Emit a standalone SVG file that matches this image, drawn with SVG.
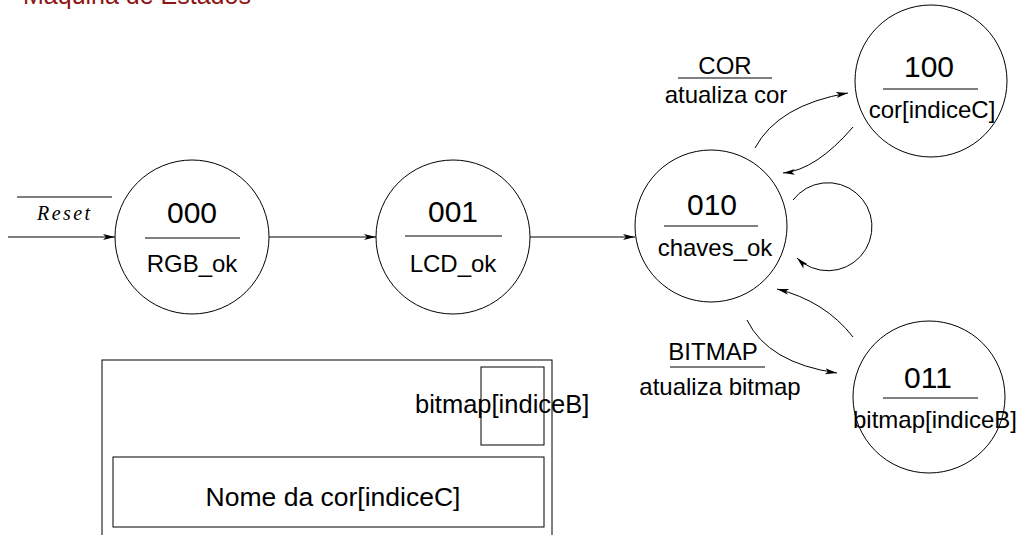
<svg xmlns="http://www.w3.org/2000/svg" width="1023" height="535" viewBox="0 0 1023 535">
  <style>
    .st { fill: #fff; stroke: #000; stroke-width: 1; }
    .sep { stroke: #000; stroke-width: 1; }
    .code { font-family: "Liberation Sans", Arial, sans-serif; font-size: 30px; fill: #000; text-anchor: middle; }
    .lbl { font-family: "Liberation Sans", Arial, sans-serif; font-size: 24px; fill: #000; text-anchor: middle; }
    .edge { fill: none; stroke: #000; stroke-width: 1; marker-end: url(#ah); }
    .box { fill: none; stroke: #000; stroke-width: 1; }
  </style>
  <defs>
    <marker id="ah" markerUnits="userSpaceOnUse" markerWidth="14" markerHeight="10" refX="12" refY="4" orient="auto">
      <path d="M0,1 L12,4 L0,7 L3,4 Z" fill="#000"/>
    </marker>
  </defs>
  <rect width="1023" height="535" fill="#fff"/>

  <!-- title -->
  <text x="23" y="3.5" font-family="Liberation Sans, Arial, sans-serif" font-size="25" fill="#8f1414">Maquina de Estados</text>

  <!-- transitions -->
  <g id="connectors">
    <path class="edge" d="M8,237 L115,237"/>
    <path class="edge" d="M269,237 L376,237"/>
    <path class="edge" d="M530,237 L635,237"/>
    <path class="edge" d="M755,148 Q778,105 848,93"/>
    <path class="edge" d="M853,127 Q816,170 783,173"/>
    <path class="edge" d="M793,200 A44,44 0 1 1 797,258"/>
    <path class="edge" d="M747,320 Q768,363 837,373"/>
    <path class="edge" d="M853,337 Q825,301 777,289"/>
  </g>

  <!-- transition labels -->
  <g id="label-reset">
    <line class="sep" x1="17" y1="197" x2="112" y2="197"/>
    <text x="37" y="220" font-family="Liberation Serif, Times New Roman, serif" font-style="italic" font-size="20" textLength="53" lengthAdjust="spacing">Reset</text>
  </g>
  <g id="label-cor">
    <text class="lbl" x="725" y="74">COR</text>
    <line class="sep" x1="678" y1="78" x2="772" y2="78"/>
    <text class="lbl" x="726" y="103">atualiza cor</text>
  </g>
  <g id="label-bitmap">
    <text class="lbl" x="713" y="360">BITMAP</text>
    <line class="sep" x1="670" y1="367" x2="765" y2="367"/>
    <text class="lbl" x="720" y="395">atualiza bitmap</text>
  </g>

  <!-- states -->
  <g id="s000">
    <circle class="st" cx="192" cy="237" r="77"/>
    <text class="code" x="192" y="223">000</text>
    <line class="sep" x1="145" y1="238" x2="240" y2="238"/>
    <text class="lbl" x="192" y="272">RGB_ok</text>
  </g>
  <g id="s001">
    <circle class="st" cx="453" cy="237" r="77"/>
    <text class="code" x="453" y="222">001</text>
    <line class="sep" x1="405" y1="236" x2="502" y2="236"/>
    <text class="lbl" x="453" y="272">LCD_ok</text>
  </g>
  <g id="s010">
    <circle class="st" cx="711" cy="226" r="76"/>
    <text class="code" x="712" y="215">010</text>
    <line class="sep" x1="664" y1="226" x2="758" y2="226"/>
    <text class="lbl" x="715" y="256">chaves_ok</text>
  </g>
  <g id="s100">
    <circle class="st" cx="931" cy="81" r="76"/>
    <text class="code" x="929" y="77">100</text>
    <line class="sep" x1="883" y1="89" x2="978" y2="89"/>
    <text class="lbl" x="932" y="118">cor[indiceC]</text>
  </g>
  <g id="s011">
    <circle class="st" cx="929" cy="397" r="76"/>
    <text class="code" x="928" y="388">011</text>
    <line class="sep" x1="883" y1="398" x2="978" y2="398"/>
    <text class="lbl" x="935" y="428">bitmap[indiceB]</text>
  </g>

  <!-- display layout -->
  <g id="display">
    <rect class="box" x="102" y="360" width="450" height="200"/>
    <rect class="box" x="481" y="367" width="63" height="78"/>
    <text x="415" y="413" font-family="Liberation Sans, Arial, sans-serif" font-size="25.5" fill="#000">bitmap[indiceB]</text>
    <rect class="box" x="113" y="457" width="431" height="70"/>
    <text x="333" y="506" font-family="Liberation Sans, Arial, sans-serif" font-size="26.5" fill="#000" text-anchor="middle">Nome da cor[indiceC]</text>
  </g>
</svg>
